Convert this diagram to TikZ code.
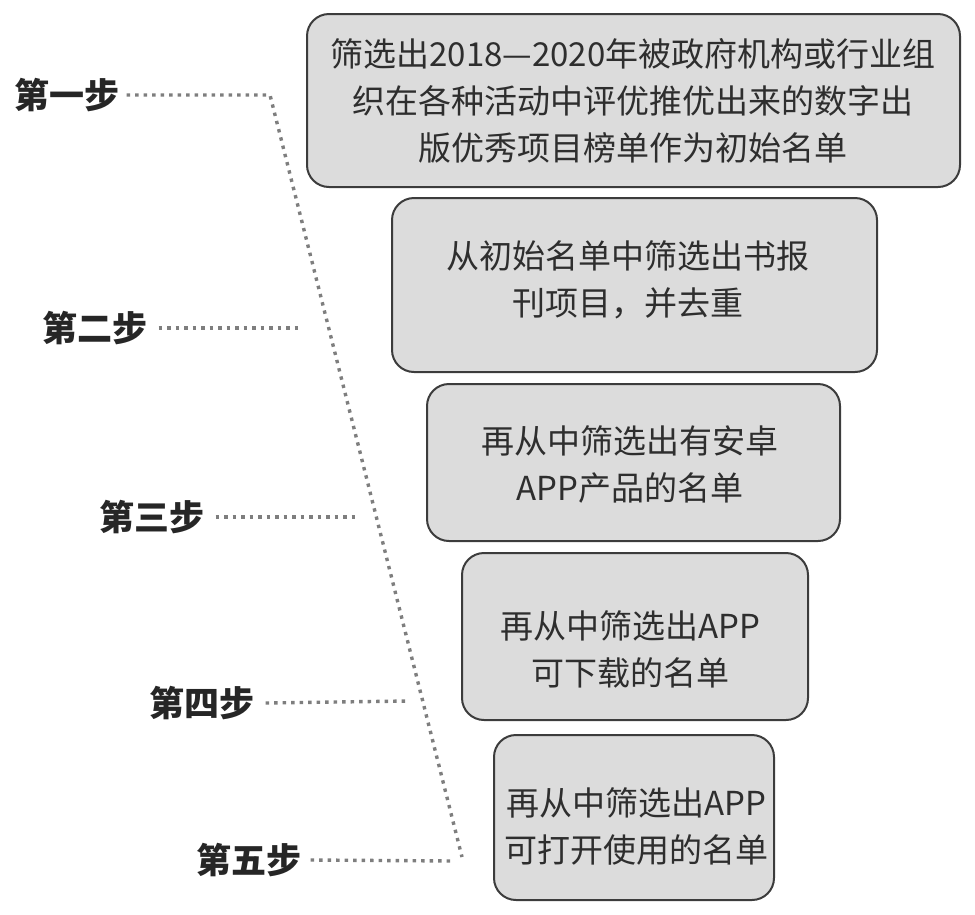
\documentclass[tikz,border=0pt]{standalone}
\usepackage{fontspec}
\setmainfont{Noto Sans CJK SC}
\definecolor{boxfill}{HTML}{DCDCDC}
\definecolor{boxline}{HTML}{3C3C3C}
\definecolor{txt}{HTML}{2E2E2E}
\definecolor{dotc}{HTML}{7E7E7E}
\tikzset{
  stepbox/.style={draw=boxline, line width=2pt, fill=boxfill, rounded corners=22pt, inner sep=0pt},
  boxtext/.style={text=txt, align=center, font=\fontsize{33}{47}\selectfont, inner sep=0pt},
  steplabel/.style={text=black!85, font=\fontsize{35}{40}\selectfont\bfseries, inner sep=0pt},
  dotline/.style={draw=dotc, line width=3.4pt, dash pattern=on 3.4pt off 5.1pt}
}
\begin{document}
\begin{tikzpicture}[x=1pt,y=-1pt]
\useasboundingbox (0,0) rectangle (975,914);
% boxes
\node[stepbox, minimum width=653pt, minimum height=173pt] (b1) at (633.5,100.5) {};
\node[stepbox, minimum width=485pt, minimum height=174pt] (b2) at (634.5,285) {};
\node[stepbox, minimum width=413pt, minimum height=157pt] (b3) at (633.5,462.5) {};
\node[stepbox, minimum width=346pt, minimum height=167pt] (b4) at (635,636.5) {};
\node[stepbox, minimum width=280pt, minimum height=165pt] (b5) at (634,817.5) {};
% texts
\node[boxtext] (t1) at (633,101) {筛选出2018—2020年被政府机构或行业组\\织在各种活动中评优推优出来的数字出\\版优秀项目榜单作为初始名单};
\node[boxtext] (t2) at (628,280) {从初始名单中筛选出书报\\刊项目，并去重};
\node[boxtext] (t3) at (630,464) {再从中筛选出有安卓\\APP产品的名单};
\node[boxtext] (t4) at (630,649) {再从中筛选出APP\\可下载的名单};
\node[boxtext] (t5) at (636,826) {再从中筛选出APP\\可打开使用的名单};
% labels
\node[steplabel] (s1) at (67,95) {第一步};
\node[steplabel] (s2) at (95,328) {第二步};
\node[steplabel] (s3) at (152,517) {第三步};
\node[steplabel] (s4) at (202,703) {第四步};
\node[steplabel] (s5) at (249,860) {第五步};
% coordinates
\coordinate (top) at (270,95);
\coordinate (bot) at (462,857);
\coordinate (e2) at (303,328);
\coordinate (e3) at (358,517);
\coordinate (e4) at (408,701);
\coordinate (e5) at (453,861);
% dotted connectors
\draw[dotline] ([xshift=7pt]s1.east) -- (top) -- (bot);
\draw[dotline] ([xshift=11pt]s2.east) -- (e2);
\draw[dotline] ([xshift=11pt]s3.east) -- (e3);
\draw[dotline] ([xshift=11pt]s4.east) -- (e4);
\draw[dotline] ([xshift=9pt]s5.east) -- (e5);
\end{tikzpicture}
\end{document}
